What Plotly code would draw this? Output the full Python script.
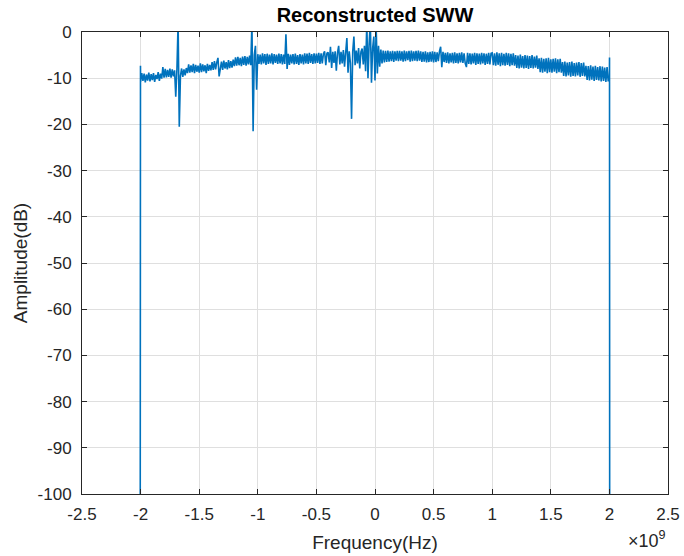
import numpy as np
import plotly.graph_objects as go

# Frequency grid (units of 1e9 Hz), -2.00 ... 2.00 step 0.01
freq_main = np.round(np.arange(-200, 201) / 100.0, 2)

# Amplitude (dB), 20 values per 0.2e9 Hz
amp_main = [
    -10.8, -8.9, -10.6, -9.0, -10.9, -9.2, -10.5, -8.8, -10.7, -9.1, -10.4, -8.9, -10.8, -9.3, -10.2, -8.7, -10.6, -9.0, -10.1, -7.6,
    -9.9, -8.0, -9.8, -8.2, -9.7, -7.9, -9.9, -8.1, -9.6, -8.3, -14.0, -8.0, 2.0, -20.5, -9.5, -7.9, -9.7, -8.1, -9.4, -7.8,
    -8.9, -7.0, -8.8, -7.2, -8.7, -6.9, -8.9, -7.1, -8.6, -7.3, -8.8, -6.8, -8.7, -7.0, -8.5, -7.2, -8.9, -6.9, -8.4, -7.1,
    -8.3, -6.5, -8.2, -6.3, -8.1, -6.6, -5.6, -9.6, -8.0, -6.4, -8.2, -6.2, -7.9, -6.5, -8.1, -6.1, -7.8, -6.3, -7.7, -6.0,
    -7.4, -5.5, -7.3, -5.4, -7.2, -5.6, -7.4, -5.3, -7.1, -5.2, -7.3, -5.4, -7.0, -5.1, -7.2, 2.0, -21.5, -5.0, -3.0, -12.5,
    -4.8, -6.9, -4.9, -7.0, -4.6, -6.8, -4.8, -7.1, -4.7, -6.9, -4.9, -6.8, -4.6, -7.0, -4.8, -6.7, -4.9, -6.9, -4.7, -6.8,
    -4.8, -7.0, -4.9, -6.9, -0.5, -8.0, -4.7, -7.1, -4.9, -6.8, -4.8, -7.0, -4.7, -6.9, -5.0, -7.1, -4.8, -6.8, -4.9, -7.0,
    -4.6, -6.8, -4.7, -6.9, -4.5, -6.7, -4.8, -6.9, -4.6, -6.8, -4.7, -6.7, -4.5, -6.9, -4.6, -6.8, -4.7, -4.2, -7.2, -4.6,
    -4.4, -6.6, -3.2, -7.8, -4.3, -6.7, -4.2, -8.4, -4.5, -3.0, -7.0, -4.3, -6.8, -3.9, -7.5, -4.4, -1.3, -8.8, -4.2, -6.7,
    -18.8, -4.2, -1.0, -7.2, -4.0, -6.8, -3.5, -7.9, -4.3, -3.6, -7.0, -3.0, -8.5, 2.0, -10.0, -2.5, 2.0, -11.0, -3.5, -1.0,
    -10.5, 1.0, -9.0, -3.0, -7.5, -3.8, -6.8, -4.0, -6.6, -4.1, -6.5, -4.0, -6.4, -4.2, -6.3, -4.1, -6.5, -4.2, -6.2, -4.1,
    -6.3, -4.1, -6.2, -4.2, -6.4, -4.0, -6.3, -4.2, -6.1, -4.1, -6.4, -4.0, -6.3, -4.2, -6.2, -4.1, -6.3, -4.0, -6.2, -4.2,
    -6.5, -4.3, -6.4, -4.2, -6.6, -4.4, -6.5, -4.3, -6.4, -4.2, -6.6, -4.3, -6.5, -4.4, -6.3, -4.2, -3.2, -7.6, -4.3, -6.5,
    -4.5, -6.7, -4.4, -6.8, -4.6, -6.6, -4.5, -6.8, -4.4, -6.7, -4.6, -6.8, -4.5, -6.6, -4.4, -6.7, -4.6, -6.8, -7.6, -4.5,
    -6.9, -4.6, -7.0, -4.7, -6.8, -4.5, -7.1, -4.6, -6.9, -4.7, -7.0, -4.5, -6.8, -4.6, -7.1, -4.7, -6.9, -4.5, -7.0, -4.6,
    -4.5, -7.2, -4.6, -7.3, -4.4, -7.1, -4.6, -7.4, -4.5, -7.2, -4.7, -7.3, -4.5, -7.1, -4.6, -7.4, -4.7, -7.2, -4.6, -7.3,
    -5.0, -7.8, -5.1, -7.9, -4.9, -7.7, -5.2, -7.9, -5.0, -7.8, -5.1, -8.0, -5.2, -7.8, -5.0, -7.9, -5.3, -7.7, -5.1, -8.0,
    -5.7, -8.7, -5.6, -8.8, -5.8, -8.6, -5.7, -8.9, -5.6, -8.7, -5.9, -8.8, -5.8, -8.6, -5.7, -8.9, -5.9, -8.7, -5.8, -8.8,
    -6.5, -9.5, -6.4, -9.6, -6.6, -9.4, -6.5, -9.7, -6.4, -9.5, -6.7, -9.6, -6.6, -9.4, -6.5, -9.7, -6.7, -9.5, -6.6, -9.6,
    -7.3, -10.4, -7.4, -10.5, -7.2, -10.3, -7.5, -10.6, -7.3, -10.4, -7.6, -10.5, -7.4, -10.7, -7.5, -10.6, -7.7, -10.8, -7.6, -10.7,
    -9.5,
]

# Band edges (steep roll-off at +/-2e9 Hz)
freq_left = [-2.004, -2.003, -2.002, -2.001]
amp_left = [-150.0, -63.0, -31.0, -7.3]
freq_right = [2.001, 2.002, 2.003]
amp_right = [-5.5, -43.0, -150.0]

x_ticks = [-2.5, -2.0, -1.5, -1.0, -0.5, 0.0, 0.5, 1.0, 1.5, 2.0, 2.5]
x_tick_labels = ["-2.5", "-2", "-1.5", "-1", "-0.5", "0", "0.5", "1", "1.5", "2", "2.5"]
y_ticks = [-100, -90, -80, -70, -60, -50, -40, -30, -20, -10, 0]
y_tick_labels = [str(v) for v in y_ticks]

freq = list(freq_left) + list(freq_main) + list(freq_right)
amp = list(amp_left) + list(amp_main) + list(amp_right)

FONT = "Liberation Sans, Arial, Helvetica, sans-serif"
AX = "#262626"

fig = go.Figure()
fig.add_trace(go.Scatter(x=freq, y=amp, mode="lines",
                         line=dict(color="#0072BD", width=1.6),
                         showlegend=False, hoverinfo="skip"))

axis_common = dict(showline=True, linecolor=AX, linewidth=1, mirror="allticks",
                   ticks="inside", ticklen=5, tickcolor=AX, tickwidth=1,
                   showgrid=True, gridcolor="#dfdfdf", gridwidth=1, zeroline=False,
                   automargin=False,
                   tickfont=dict(family=FONT, size=17, color=AX))

fig.update_xaxes(range=[-2.5, 2.5], tickvals=x_ticks, ticktext=x_tick_labels,
                 ticklabelstandoff=5,
                 title=dict(text="Frequency(Hz)", font=dict(family=FONT, size=19, color=AX), standoff=12),
                 **axis_common)
fig.update_yaxes(range=[-100, 0], tickvals=y_ticks, ticktext=y_tick_labels,
                 ticklabelstandoff=6,
                 title=dict(text="Amplitude(dB)", font=dict(family=FONT, size=19, color=AX), standoff=4),
                 **axis_common)

fig.update_layout(
    width=684, height=556,
    margin=dict(l=82, r=16, t=32, b=62),
    paper_bgcolor="white", plot_bgcolor="white",
    title=dict(text="<b>Reconstructed SWW</b>", x=(82 + 668) / 2 / 684, xanchor="center",
               y=1 - 15 / 556, yanchor="middle",
               font=dict(family=FONT, size=20, color="black")),
    annotations=[dict(text="×10<sup>9</sup>", xref="paper", yref="paper",
                      x=1.0, y=-0.098, xanchor="right", yanchor="middle",
                      showarrow=False, font=dict(family=FONT, size=18, color=AX))],
)

fig.write_html("out.html")
